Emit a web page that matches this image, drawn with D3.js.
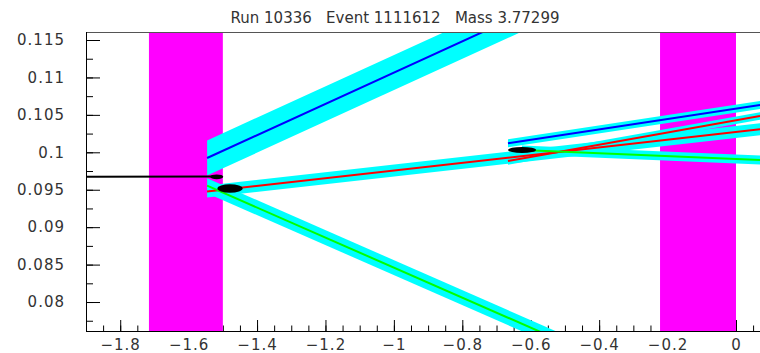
<!DOCTYPE html>
<html>
<head>
<meta charset="utf-8">
<script src="https://cdn.jsdelivr.net/npm/d3@7"></script>
<style>
    body { margin: 0; background: #fff; }
    text { font-family: "DejaVu Sans", sans-serif; font-size: 15px; fill: #333; }
</style>
</head>
<body>
<svg id="chart" width="760" height="353"></svg>
<script>
var title = "Run 10336   Event 1111612   Mass 3.77299";

var xTicks = [-1.8, -1.6, -1.4, -1.2, -1, -0.8, -0.6, -0.4, -0.2, 0];
var yTicks = [0.08, 0.085, 0.09, 0.095, 0.1, 0.105, 0.11, 0.115];

// detector layers (x ranges)
var layerX0 = [-1.716, -0.222];
var layerX1 = [-1.5, 0];

// tracks: start / end points, band half width (y units) and kind
var trackKind = ["blue", "red", "green", "blue", "red", "green", "black"];
var trackX0 = [-1.546, -1.546, -1.546, -0.6665, -0.6665, -0.6255, -1.95];
var trackY0 = [0.09924, 0.09476, 0.09554, 0.10120, 0.09884, 0.10031, 0.09672];
var trackX1 = [-0.6, 0.0702, -0.45, 0.0702, 0.0702, 0.0702, -1.514];
var trackY1 = [0.1190, 0.10307, 0.07357, 0.10632, 0.10485, 0.09897, 0.09676];
var trackErr = [0.00234, 0.0008, 0.0010, 0.00053, 0.0005, 0.0006, 0];

// vertex ellipses
var vertexX = [-1.479, -0.6255, -1.518];
var vertexY = [0.09516, 0.10031, 0.09672];
var vertexDX = [0.037, 0.041, 0.019];
var vertexDY = [0.00056, 0.0004, 0.00033];

var svg = d3.select("#chart"),
    x = d3.scaleLinear().domain([-1.9, 0.0702]).range([86, 760]),
    y = d3.scaleLinear().domain([0.07613, 0.11607]).range([331, 32]),
    colors = d3.scaleOrdinal()
        .domain(["blue", "red", "green", "black"])
        .range(["#0000ff", "#ff0000", "#00ff00", "#000000"]);

var minorX = d3.range(-1.9, 0.07, 0.05).map(function (d) { return Math.round(d * 100) / 100; }),
    minorY = d3.range(0.0775, 0.116, 0.0025).map(function (d) { return Math.round(d * 10000) / 10000; });

svg.append("defs").append("clipPath").attr("id", "frame")
    .append("rect")
    .attr("x", 86).attr("y", 32).attr("width", 674).attr("height", 299);

svg.append("text")
    .attr("x", 395).attr("y", 23)
    .attr("text-anchor", "middle")
    .style("white-space", "pre")
    .attr("xml:space", "preserve")
    .text(title);

// ticks
svg.append("g").attr("transform", "translate(0,331)")
    .call(d3.axisBottom(x).tickValues(xTicks).tickSize(-11).tickSizeOuter(0)
        .tickPadding(8).tickFormat(d3.format("")));
svg.append("g").attr("transform", "translate(0,331)")
    .call(d3.axisBottom(x).tickValues(minorX).tickSize(-5.5).tickSizeOuter(0).tickFormat(""));

svg.append("g").attr("transform", "translate(86,0)")
    .call(d3.axisLeft(y).tickValues(yTicks).tickSize(-14).tickSizeOuter(0)
        .tickPadding(21).tickFormat(d3.format("")));
svg.append("g").attr("transform", "translate(86,0)")
    .call(d3.axisLeft(y).tickValues(minorY).tickSize(-7).tickSizeOuter(0).tickFormat(""));

svg.selectAll(".domain").remove();
svg.selectAll(".tick line").attr("stroke", "#000");
svg.selectAll(".tick text").style("letter-spacing", "1px").attr("fill", "#333");

var plot = svg.append("g").attr("clip-path", "url(#frame)");

plot.selectAll("rect.layer")
    .data(layerX0)
    .enter()
    .append("rect")
    .attr("class", "layer")
    .attr("x", function (d) { return x(d); })
    .attr("width", function (d, i) { return x(layerX1[i]) - x(d); })
    .attr("y", 32)
    .attr("height", 299)
    .attr("fill", "#ff00ff");

var tracks = trackKind.map(function (k, i) {
    return { kind: k, x0: trackX0[i], y0: trackY0[i], x1: trackX1[i], y1: trackY1[i], err: trackErr[i] };
});

plot.selectAll("path.band")
    .data(tracks.filter(function (t) { return t.err > 0; }))
    .enter()
    .append("path")
    .attr("class", "band")
    .attr("fill", "#00ffff")
    .attr("d", function (t) {
        return "M" + x(t.x0) + "," + y(t.y0 + t.err) +
            "L" + x(t.x1) + "," + y(t.y1 + t.err) +
            "L" + x(t.x1) + "," + y(t.y1 - t.err) +
            "L" + x(t.x0) + "," + y(t.y0 - t.err) + "Z";
    });

plot.selectAll("line.track")
    .data(tracks)
    .enter()
    .append("line")
    .attr("class", "track")
    .attr("x1", function (t) { return x(t.x0); })
    .attr("y1", function (t) { return y(t.y0); })
    .attr("x2", function (t) { return x(t.x1); })
    .attr("y2", function (t) { return y(t.y1); })
    .attr("stroke", function (t) { return colors(t.kind); })
    .attr("stroke-width", 2);

plot.selectAll("ellipse")
    .data(vertexX)
    .enter()
    .append("ellipse")
    .attr("cx", function (d) { return x(d); })
    .attr("cy", function (d, i) { return y(vertexY[i]); })
    .attr("rx", function (d, i) { return x(d + vertexDX[i]) - x(d); })
    .attr("ry", function (d, i) { return y(vertexY[i] - vertexDY[i]) - y(vertexY[i]); })
    .attr("fill", "#000");

// frame lines
svg.append("line").attr("x1", 86).attr("x2", 760).attr("y1", 32.5).attr("y2", 32.5)
    .attr("stroke", "#555");
svg.append("line").attr("x1", 86).attr("x2", 760).attr("y1", 331.5).attr("y2", 331.5)
    .attr("stroke", "#000");
svg.append("line").attr("x1", 86.5).attr("x2", 86.5).attr("y1", 32).attr("y2", 332)
    .attr("stroke", "#000");
</script>
</body>
</html>
